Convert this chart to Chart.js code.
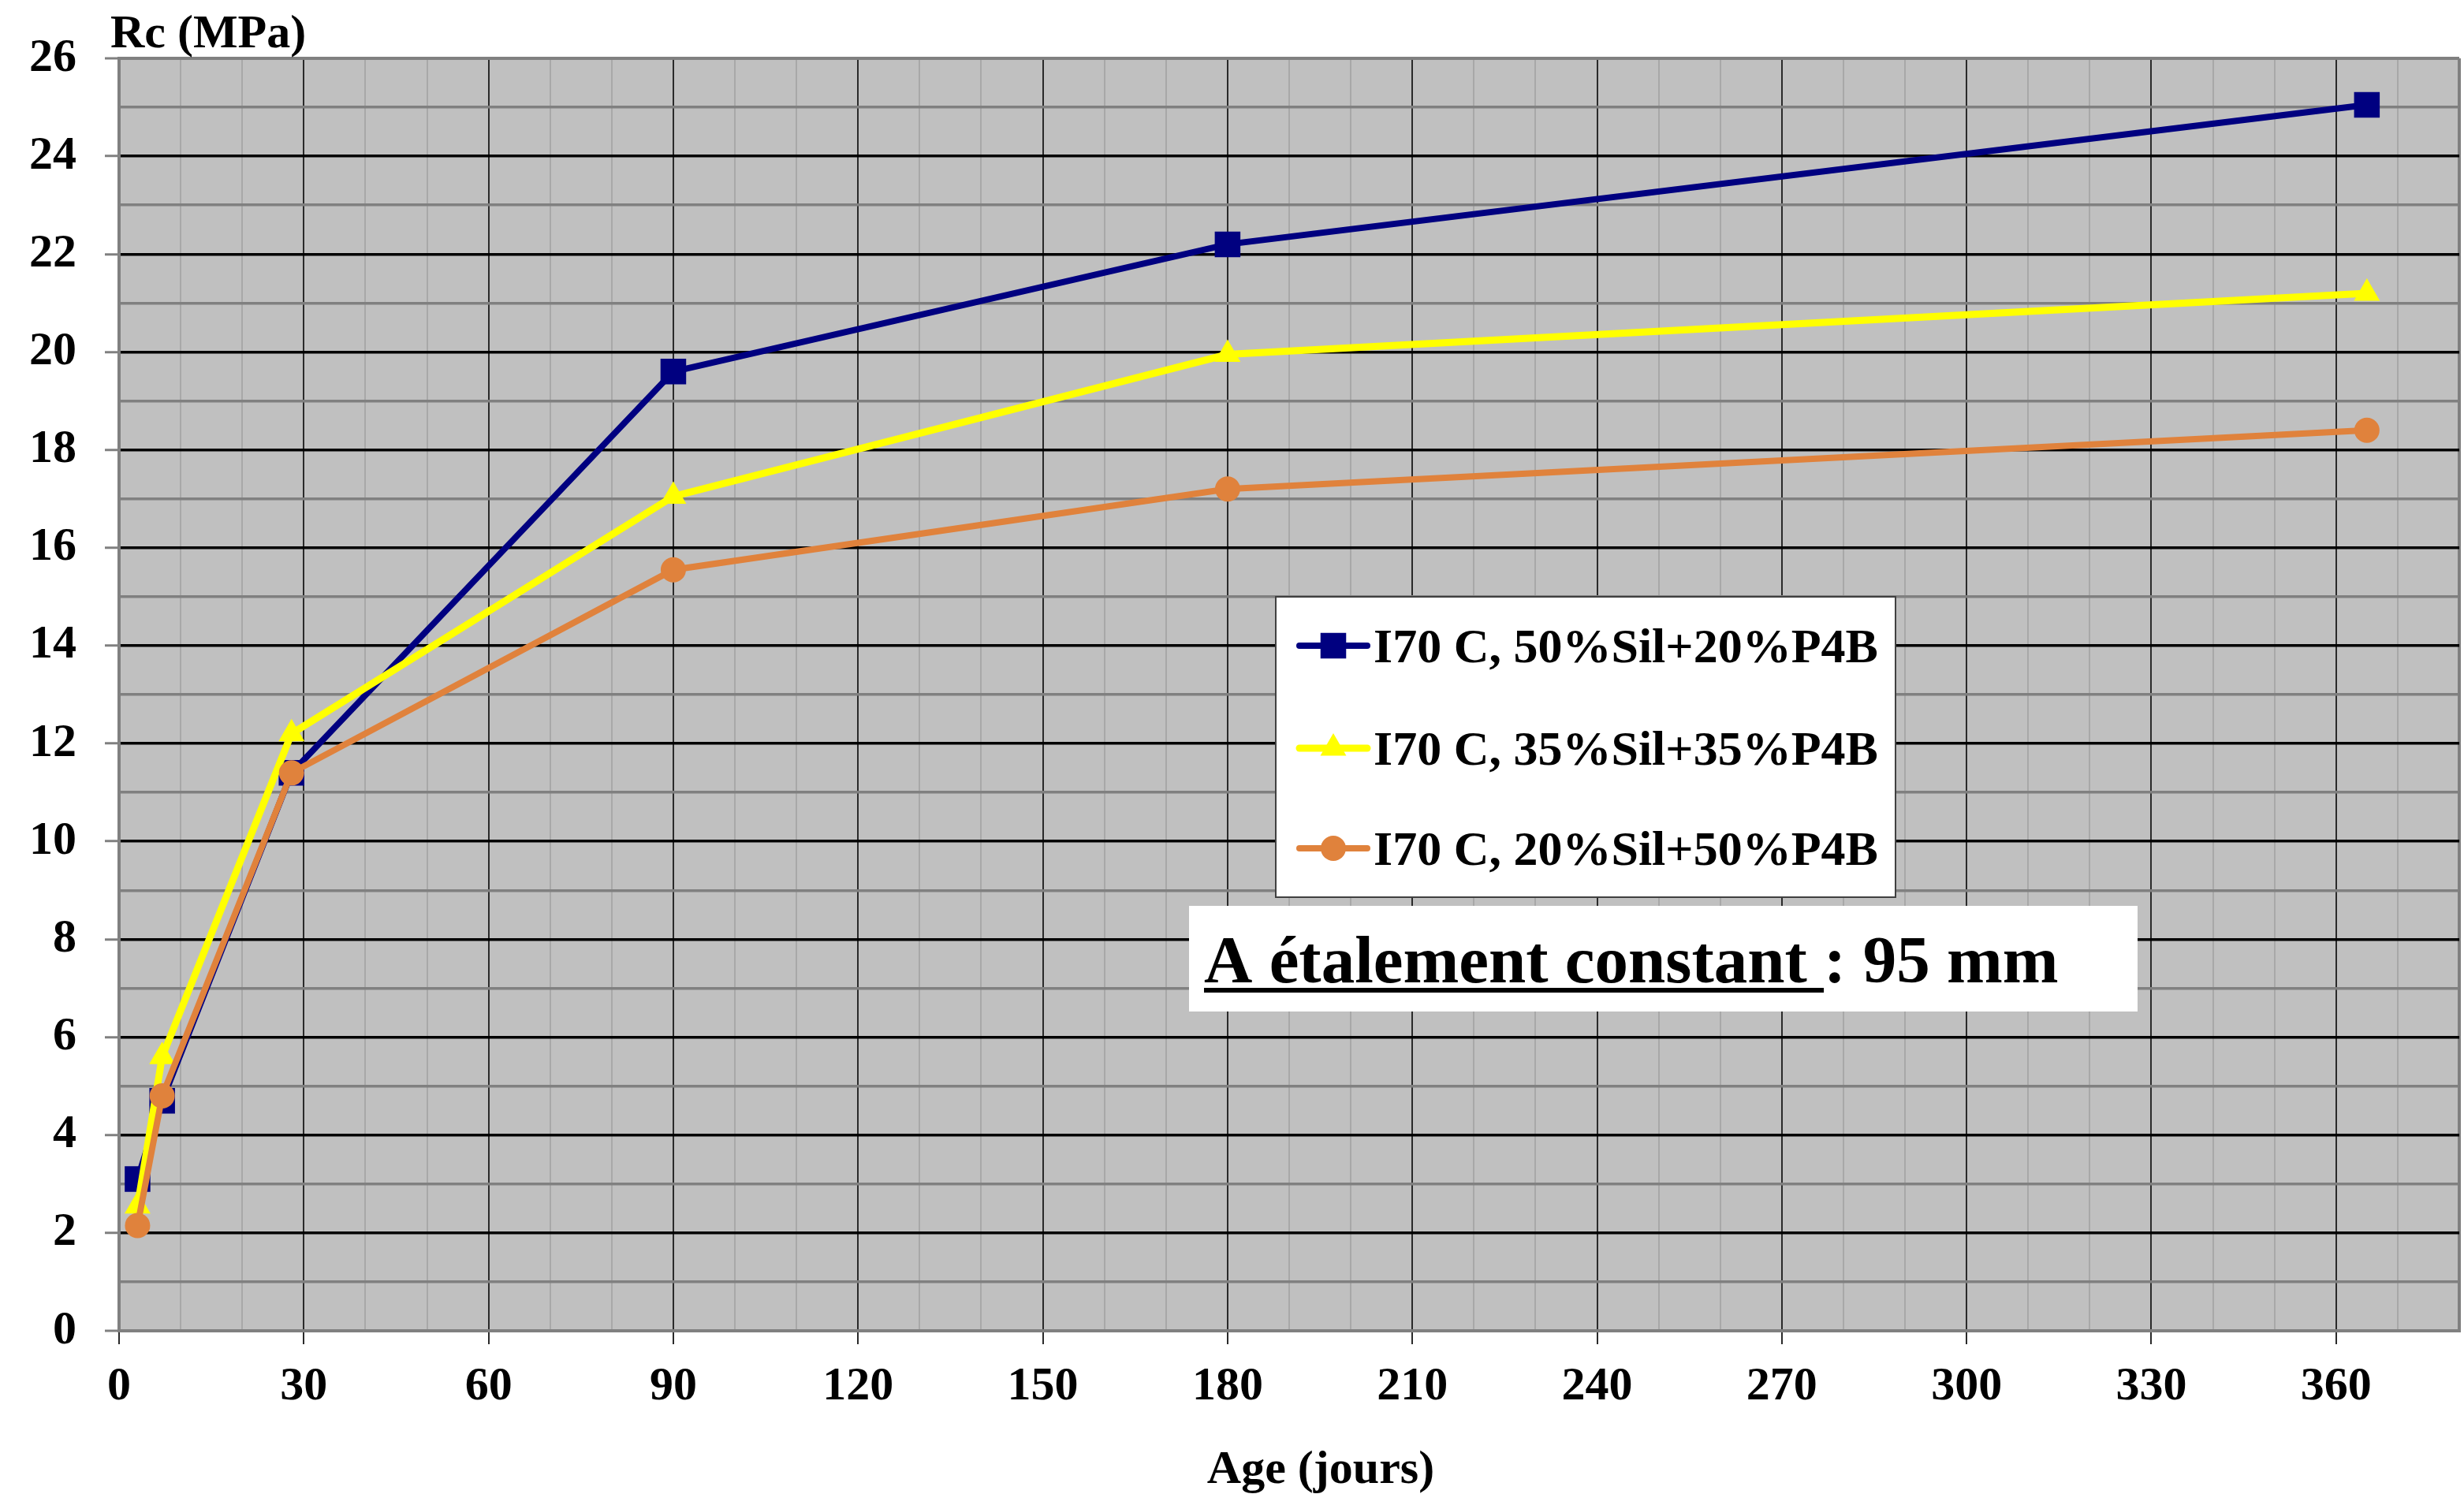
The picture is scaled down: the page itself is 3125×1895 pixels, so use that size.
<!DOCTYPE html>
<html>
<head>
<meta charset="utf-8">
<script src="https://cdn.jsdelivr.net/npm/chart.js@4.4.0/dist/chart.umd.min.js"></script>
<style>
  html, body { margin: 0; padding: 0; background: #fff; }
  #wrap { width: 3125px; height: 1895px; }
</style>
</head>
<body>
<div id="wrap"><canvas id="chart_rc" width="3125" height="1895"></canvas></div>
<script>
// age in days and compressive strength Rc (MPa) for the three mixes
const ages = [3, 7, 28, 90, 180, 365];
const rc_50sil = [3.1, 4.7, 11.4, 19.6, 22.2, 25.05];
const rc_35sil = [2.55, 5.6, 12.2, 17.05, 19.95, 21.2];
const rc_20sil = [2.15, 4.8, 11.4, 15.55, 17.2, 18.4];
const series_names = ["I70 C, 50%Sil+20%P4B", "I70 C, 35%Sil+35%P4B", "I70 C, 20%Sil+50%P4B"];

const x_max = 380;      // days
const x_label_step = 30;
const y_max = 26;       // MPa
const y_label_step = 2;

const x_title = "Age (jours)";
const y_title = "Rc (MPa)";
const note_underlined = "A étalement constant ";
const note_rest = ": 95 mm";

const FONT = "'Liberation Serif', 'Times New Roman', serif";

function points(ys) {
    return ages.map((a, i) => ({x: a, y: ys[i]}));
}

// grey plot area like the old Excel charts
const plotBackground = {
    id: "plotBackground",
    beforeDraw(chart) {
        const {ctx, chartArea: a} = chart;
        ctx.save();
        ctx.fillStyle = "#c0c0c0";
        ctx.fillRect(a.left, a.top, a.right - a.left, a.bottom - a.top);
        ctx.restore();
    }
};

function drawMarker(ctx, ds, x, y) {
    ctx.fillStyle = ds.pointBackgroundColor;
    ctx.strokeStyle = ds.pointBorderColor;
    if (Chart.helpers && Chart.helpers.drawPoint) {
        Chart.helpers.drawPoint(ctx, {pointStyle: ds.pointStyle, radius: ds.pointRadius, rotation: 0, borderWidth: 0}, x, y);
        return;
    }
    const r = ds.pointRadius;
    ctx.beginPath();
    if (ds.pointStyle === "rect") {
        const s = r * Math.SQRT1_2;
        ctx.rect(x - s, y - s, 2 * s, 2 * s);
    } else if (ds.pointStyle === "triangle") {
        ctx.moveTo(x, y - r);
        ctx.lineTo(x + r * Math.sin(2 * Math.PI / 3), y + r / 2);
        ctx.lineTo(x - r * Math.sin(2 * Math.PI / 3), y + r / 2);
        ctx.closePath();
    } else {
        ctx.arc(x, y, r, 0, Math.PI * 2);
    }
    ctx.fill();
}

// axis titles, legend box and the note box
const overlay = {
    id: "overlay",
    afterDraw(chart) {
        const ctx = chart.ctx;
        ctx.save();
        ctx.fillStyle = "#000";
        ctx.textBaseline = "alphabetic";

        ctx.font = "bold 60px " + FONT;
        ctx.textAlign = "left";
        ctx.fillText(y_title, 140, 60);
        ctx.textAlign = "center";
        ctx.fillText(x_title, 1675, 1881);

        // legend
        const lx = 1618, ly = 757, lw = 786, lh = 381;
        ctx.fillStyle = "#fff";
        ctx.fillRect(lx, ly, lw, lh);
        ctx.strokeStyle = "#404040";
        ctx.lineWidth = 2;
        ctx.strokeRect(lx, ly, lw, lh);
        const rows = [819, 949, 1076];
        chart.data.datasets.forEach((ds, i) => {
            const y = rows[i];
            ctx.strokeStyle = ds.borderColor;
            ctx.lineWidth = ds.borderWidth;
            ctx.lineCap = "round";
            ctx.beginPath();
            ctx.moveTo(1648, y);
            ctx.lineTo(1734, y);
            ctx.stroke();
            drawMarker(ctx, ds, 1691, y);
            ctx.fillStyle = "#000";
            ctx.font = "bold 62px " + FONT;
            ctx.textAlign = "left";
            ctx.fillText(ds.label, 1742, y + 21);
        });

        // note box
        ctx.fillStyle = "#fff";
        ctx.fillRect(1508, 1149, 1203, 134);
        ctx.fillStyle = "#000";
        ctx.font = "bold 85px " + FONT;
        ctx.textAlign = "left";
        ctx.fillText(note_underlined, 1527, 1246);
        const w = ctx.measureText(note_underlined).width;
        ctx.fillText(note_rest, 1527 + w, 1246);
        ctx.fillRect(1527, 1253, w, 6);
        ctx.restore();
    }
};

const chart_rc = new Chart("chart_rc", {
    type: "line",
    data: {
        datasets: [{
            label: series_names[0],
            data: points(rc_50sil),
            borderColor: "#000080",
            backgroundColor: "#000080",
            pointBackgroundColor: "#000080",
            pointBorderColor: "#000080",
            borderWidth: 8,
            pointStyle: "rect",
            pointRadius: 23,
            pointHoverRadius: 23,
            pointBorderWidth: 0,
            order: 2
        },
        {
            label: series_names[1],
            data: points(rc_35sil),
            borderColor: "#ffff00",
            backgroundColor: "#ffff00",
            pointBackgroundColor: "#ffff00",
            pointBorderColor: "#ffff00",
            borderWidth: 9,
            pointStyle: "triangle",
            pointRadius: 19,
            pointHoverRadius: 19,
            pointBorderWidth: 0,
            order: 1
        },
        {
            label: series_names[2],
            data: points(rc_20sil),
            borderColor: "#e0823c",
            backgroundColor: "#e0823c",
            pointBackgroundColor: "#e0823c",
            pointBorderColor: "#e0823c",
            borderWidth: 8,
            pointStyle: "circle",
            pointRadius: 16,
            pointHoverRadius: 16,
            pointBorderWidth: 0,
            order: 0
        }]
    },
    options: {
        responsive: false,
        animation: false,
        devicePixelRatio: 1,
        layout: {autoPadding: false, padding: {top: 74, right: 6, left: 0, bottom: 0}},
        plugins: {
            legend: {display: false},
            tooltip: {enabled: false}
        },
        elements: {line: {tension: 0, fill: false}},
        scales: {
            x: {
                type: "linear",
                min: 0,
                max: x_max,
                afterFit(scale) {
                    scale.height = 207;
                    // no extra room needed for the (empty) last label
                    scale.paddingLeft = 0;
                    scale.paddingRight = 0;
                },
                ticks: {
                    stepSize: 10,
                    autoSkip: false,
                    maxRotation: 0,
                    padding: 18,
                    color: "#000",
                    font: {family: FONT, size: 60, weight: "bold"},
                    callback: v => (v % x_label_step === 0 && v < x_max) ? v : ""
                },
                grid: {
                    color: c => {
                        const v = c.tick.value;
                        if (v === 0 || v === x_max) return "#808080";
                        return v % x_label_step === 0 ? "#2a2a2a" : "#a8a8a8";
                    },
                    lineWidth: c => {
                        const v = c.tick.value;
                        if (v === 0 || v === x_max) return 4;
                        return 2;
                    },
                    tickLength: 17,
                    tickColor: c => (c.tick.value % x_label_step === 0 && c.tick.value < x_max) ? "#2a2a2a" : "rgba(0,0,0,0)",
                    tickWidth: 2
                },
                border: {display: true, color: "#808080", width: 4}
            },
            y: {
                type: "linear",
                min: 0,
                max: y_max,
                afterFit(scale) { scale.width = 151; },
                ticks: {
                    stepSize: 1,
                    autoSkip: false,
                    padding: 36,
                    color: "#000",
                    font: {family: FONT, size: 60, weight: "bold"},
                    callback: v => v % y_label_step === 0 ? v : ""
                },
                grid: {
                    color: c => {
                        const v = c.tick.value;
                        if (v === 0 || v === y_max) return "#808080";
                        return v % y_label_step === 0 ? "#000" : "#808080";
                    },
                    lineWidth: c => {
                        const v = c.tick.value;
                        if (v === 0 || v === y_max) return 4;
                        return 3.5;
                    },
                    tickLength: 18,
                    tickColor: c => c.tick.value % y_label_step === 0 ? "#808080" : "rgba(0,0,0,0)",
                    tickWidth: 3
                },
                border: {display: true, color: "#808080", width: 4}
            }
        }
    },
    plugins: [plotBackground, overlay]
});
</script>
</body>
</html>
